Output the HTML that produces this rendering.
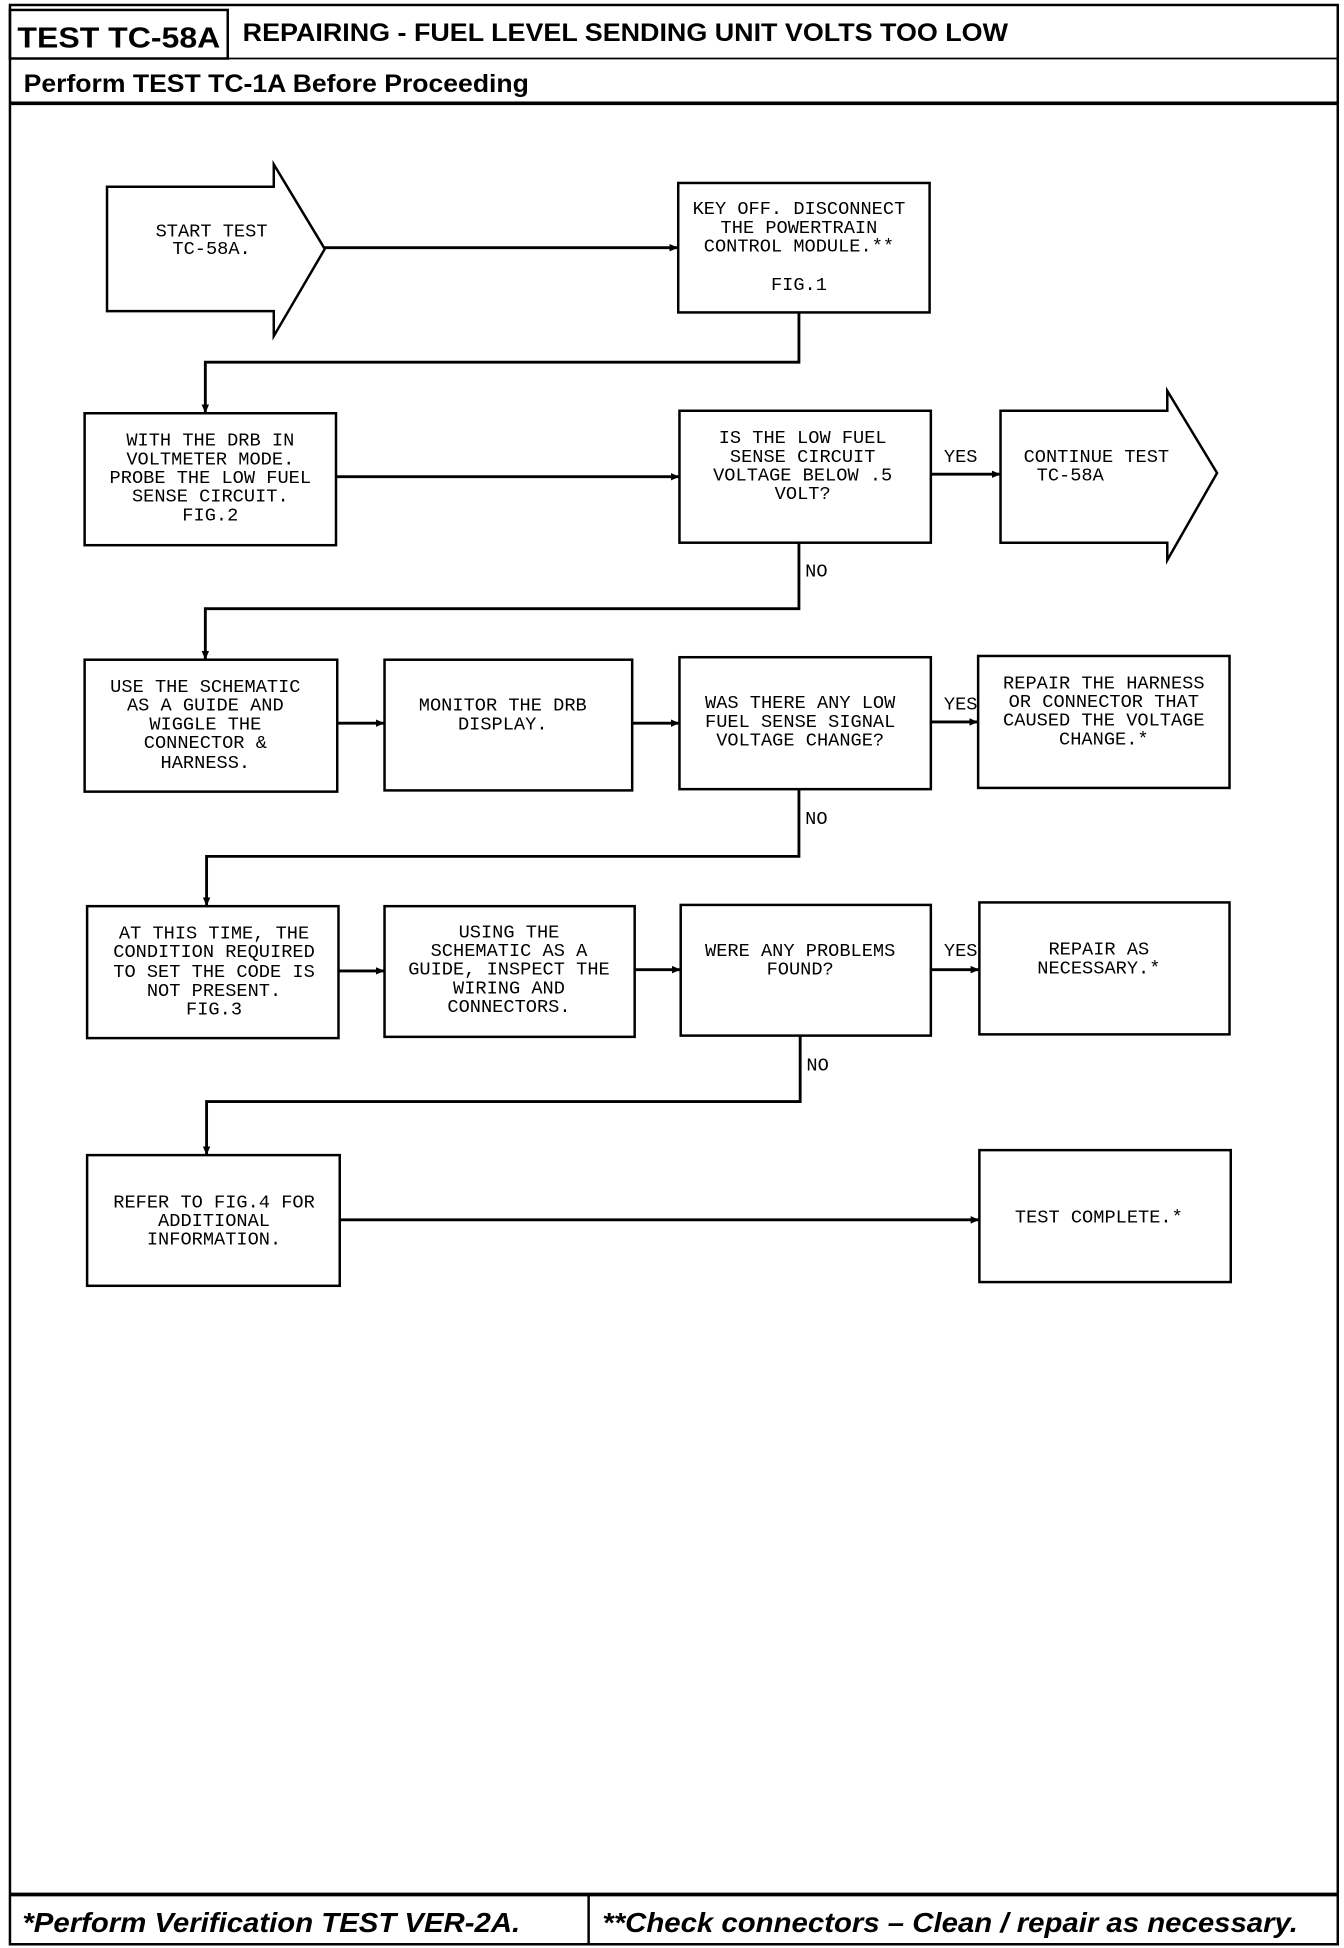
<!DOCTYPE html>
<html><head><meta charset="utf-8"><style>
html,body{margin:0;padding:0;background:#fff}
svg{display:block}
.t{font-family:"Liberation Mono",monospace;font-size:15px;fill:#000;text-anchor:middle}
.h{font-family:"Liberation Sans",sans-serif;font-weight:bold;fill:#000}
</style></head><body>
<svg width="1344" height="1948" viewBox="0 0 1080 1565" preserveAspectRatio="none" xmlns="http://www.w3.org/2000/svg">
<defs><marker id="a" markerWidth="8" markerHeight="8" refX="7" refY="4" orient="auto" markerUnits="userSpaceOnUse"><path d="M0,1 L7,4 L0,7 Z" fill="#000"/></marker></defs>
<g fill="none" stroke="#000" stroke-width="2">
<rect x="8" y="4" width="1067" height="1558"/>
<rect x="8" y="8" width="175" height="39"/>
<line x1="8" y1="47" x2="1075" y2="47" stroke-width="1.5"/>
<line x1="8" y1="83" x2="1075" y2="83" stroke-width="3"/>
<line x1="8" y1="1522" x2="1075" y2="1522" stroke-width="3"/>
<line x1="473" y1="1522" x2="473" y2="1562"/>
<path d="M86,150 H220 V132 L261,200 L220,270 V250 H86 Z"/>
<rect x="545" y="147" width="202" height="104"/>
<rect x="68" y="332" width="202" height="106"/>
<rect x="546" y="330" width="202" height="106"/>
<path d="M804,330 H938 V314 L978,380 L938,450 V436 H804 Z"/>
<rect x="68" y="530" width="203" height="106"/>
<rect x="309" y="530" width="199" height="105"/>
<rect x="546" y="528" width="202" height="106"/>
<rect x="786" y="527" width="202" height="106"/>
<rect x="70" y="728" width="202" height="106"/>
<rect x="309" y="728" width="201" height="105"/>
<rect x="547" y="727" width="201" height="105"/>
<rect x="787" y="725" width="201" height="106"/>
<rect x="70" y="928" width="203" height="105"/>
<rect x="787" y="924" width="202" height="106"/>
</g>
<g fill="none" stroke="#000" stroke-width="2.3" marker-end="url(#a)">
<line x1="261" y1="199" x2="545" y2="199"/>
<polyline points="642,251 642,291 165,291 165,332"/>
<line x1="270" y1="383" x2="546" y2="383"/>
<line x1="748" y1="381" x2="804" y2="381"/>
<polyline points="642,436 642,489 165,489 165,530"/>
<line x1="271" y1="581" x2="309" y2="581"/>
<line x1="508" y1="581" x2="546" y2="581"/>
<line x1="748" y1="580" x2="786" y2="580"/>
<polyline points="642,634 642,688 166,688 166,728"/>
<line x1="272" y1="780" x2="309" y2="780"/>
<line x1="510" y1="779" x2="547" y2="779"/>
<line x1="748" y1="779" x2="787" y2="779"/>
<polyline points="643,832 643,885 166,885 166,928"/>
<line x1="273" y1="980" x2="787" y2="980"/>
</g>
<text class="h" x="14" y="38" font-size="23" textLength="163" lengthAdjust="spacingAndGlyphs">TEST TC-58A</text>
<text class="h" x="195" y="33" font-size="20" textLength="615" lengthAdjust="spacingAndGlyphs">REPAIRING - FUEL LEVEL SENDING UNIT VOLTS TOO LOW</text>
<text class="h" x="19" y="74" font-size="20" textLength="406" lengthAdjust="spacingAndGlyphs">Perform TEST TC-1A Before Proceeding</text>
<text class="h" x="18" y="1552" font-size="22" font-style="italic" textLength="400" lengthAdjust="spacingAndGlyphs">*Perform Verification TEST VER-2A.</text>
<text class="h" x="484" y="1552" font-size="22" font-style="italic" textLength="559" lengthAdjust="spacingAndGlyphs">**Check connectors – Clean / repair as necessary.</text>
<text class="t" x="170" y="190">START TEST<tspan x="170" y="204">TC-58A.</tspan></text>
<text class="t" x="642" y="172">KEY OFF. DISCONNECT<tspan x="642" y="187">THE POWERTRAIN</tspan><tspan x="642" y="202">CONTROL MODULE.**</tspan><tspan x="642" y="233">FIG.1</tspan></text>
<text class="t" x="169" y="358">WITH THE DRB IN<tspan x="169" y="373">VOLTMETER MODE.</tspan><tspan x="169" y="388">PROBE THE LOW FUEL</tspan><tspan x="169" y="403">SENSE CIRCUIT.</tspan><tspan x="169" y="418">FIG.2</tspan></text>
<text class="t" x="645" y="356">IS THE LOW FUEL<tspan x="645" y="371">SENSE CIRCUIT</tspan><tspan x="645" y="386">VOLTAGE BELOW .5</tspan><tspan x="645" y="401">VOLT?</tspan></text>
<text class="t" x="772" y="371">YES</text>
<text class="t" x="881" y="371">CONTINUE TEST<tspan x="860" y="386">TC-58A</tspan></text>
<text class="t" x="656" y="463">NO</text>
<text class="t" x="165" y="556">USE THE SCHEMATIC<tspan x="165" y="571">AS A GUIDE AND</tspan><tspan x="165" y="586">WIGGLE THE</tspan><tspan x="165" y="601">CONNECTOR &amp;</tspan><tspan x="165" y="617">HARNESS.</tspan></text>
<text class="t" x="404" y="571">MONITOR THE DRB<tspan x="404" y="586">DISPLAY.</tspan></text>
<text class="t" x="643" y="569">WAS THERE ANY LOW<tspan x="643" y="584">FUEL SENSE SIGNAL</tspan><tspan x="643" y="599">VOLTAGE CHANGE?</tspan></text>
<text class="t" x="772" y="570">YES</text>
<text class="t" x="887" y="553">REPAIR THE HARNESS<tspan x="887" y="568">OR CONNECTOR THAT</tspan><tspan x="887" y="583">CAUSED THE VOLTAGE</tspan><tspan x="887" y="598">CHANGE.*</tspan></text>
<text class="t" x="656" y="662">NO</text>
<text class="t" x="172" y="754">AT THIS TIME, THE<tspan x="172" y="769">CONDITION REQUIRED</tspan><tspan x="172" y="785">TO SET THE CODE IS</tspan><tspan x="172" y="800">NOT PRESENT.</tspan><tspan x="172" y="815">FIG.3</tspan></text>
<text class="t" x="409" y="753">USING THE<tspan x="409" y="768">SCHEMATIC AS A</tspan><tspan x="409" y="783">GUIDE, INSPECT THE</tspan><tspan x="409" y="798">WIRING AND</tspan><tspan x="409" y="813">CONNECTORS.</tspan></text>
<text class="t" x="643" y="768">WERE ANY PROBLEMS<tspan x="643" y="783">FOUND?</tspan></text>
<text class="t" x="772" y="768">YES</text>
<text class="t" x="883" y="767">REPAIR AS<tspan x="883" y="782">NECESSARY.*</tspan></text>
<text class="t" x="657" y="860">NO</text>
<text class="t" x="172" y="970">REFER TO FIG.4 FOR<tspan x="172" y="985">ADDITIONAL</tspan><tspan x="172" y="1000">INFORMATION.</tspan></text>
<text class="t" x="883" y="982">TEST COMPLETE.*</text>
</svg>
</body></html>
